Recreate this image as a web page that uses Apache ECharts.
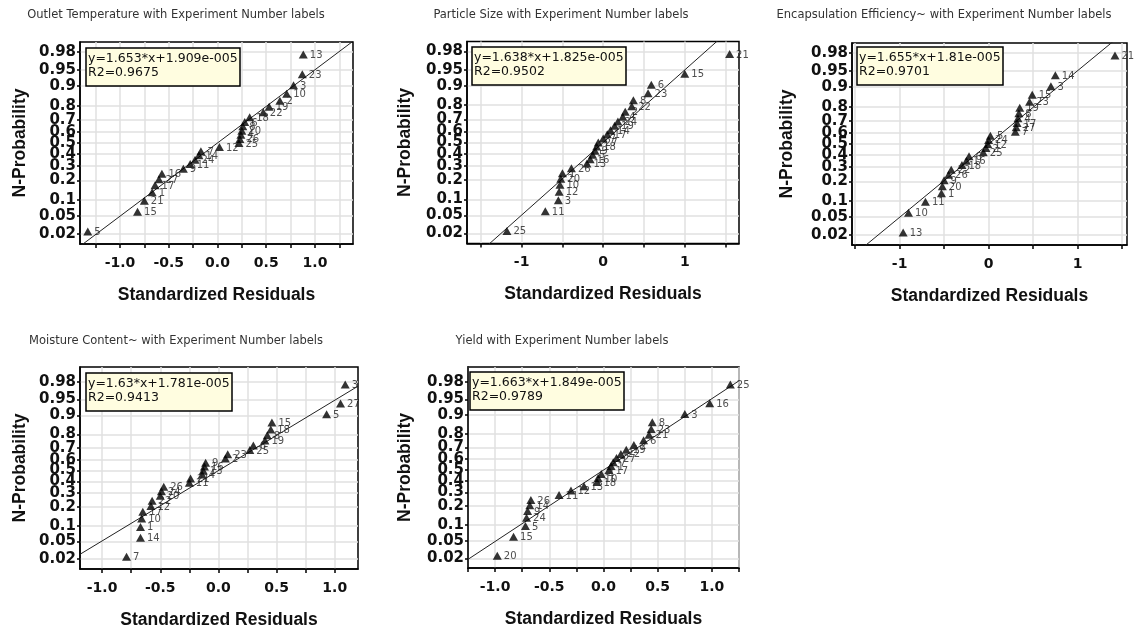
<!DOCTYPE html>
<html>
<head>
<meta charset="utf-8">
<script src="https://cdn.jsdelivr.net/npm/echarts@6/dist/echarts.min.js"></script>
<style>
  html, body { margin: 0; padding: 0; background: #ffffff; }
  #chart { width: 1140px; height: 632px; }
</style>
</head>
<body>
<div id="chart"></div>
<script>
// Normal probability plots of standardized residuals, one panel per response.

const panelTitles = [
  'Outlet Temperature with Experiment Number labels',
  'Particle Size with Experiment Number labels',
  'Encapsulation Efficiency~ with Experiment Number labels',
  'Moisture Content~ with Experiment Number labels',
  'Yield with Experiment Number labels'
];

// Cumulative probability of each ranked residual (27 runs)
const plotPositions = [0.023, 0.060, 0.096, 0.133, 0.170, 0.206, 0.243, 0.280, 0.317,
  0.353, 0.390, 0.427, 0.463, 0.500, 0.537, 0.573, 0.610, 0.647,
  0.683, 0.720, 0.757, 0.794, 0.830, 0.867, 0.904, 0.940, 0.977];

// Sorted standardized residuals and the experiment number of each
const outletResiduals = [-1.33, -0.82, -0.75, -0.67, -0.64, -0.60, -0.57, -0.35, -0.28,
  -0.23, -0.19, -0.17, 0.02, 0.22, 0.23, 0.24, 0.25, 0.26,
  0.28, 0.33, 0.47, 0.53, 0.64, 0.71, 0.78, 0.87, 0.88];
const outletRuns = [5, 15, 21, 1, 17, 27, 16, 9, 11, 24, 14, 7, 12, 25, 26, 4, 20, 8,
  6, 18, 22, 19, 2, 10, 3, 23, 13];

const sizeResiduals = [-1.18, -0.71, -0.55, -0.54, -0.53, -0.52, -0.50, -0.39, -0.20,
  -0.16, -0.13, -0.10, -0.08, -0.06, 0.00, 0.05, 0.09, 0.14,
  0.18, 0.24, 0.27, 0.35, 0.37, 0.55, 0.59, 1.00, 1.55];
const sizeRuns = [25, 11, 3, 12, 10, 20, 1, 26, 13, 16, 5, 9, 18, 27, 7, 17, 14, 19,
  24, 4, 2, 22, 8, 23, 6, 15, 21];

const efficiencyResiduals = [-0.96, -0.90, -0.71, -0.53, -0.52, -0.50, -0.45, -0.42, -0.30,
  -0.25, -0.22, -0.06, -0.03, -0.01, 0.00, 0.02, 0.30, 0.31,
  0.32, 0.33, 0.34, 0.35, 0.46, 0.49, 0.70, 0.75, 1.42];
const efficiencyRuns = [13, 10, 11, 1, 20, 9, 26, 22, 18, 16, 6, 25, 2, 12, 24, 5, 7, 27,
  17, 4, 8, 19, 23, 15, 3, 14, 21];

const moistureResiduals = [-0.79, -0.67, -0.67, -0.66, -0.65, -0.58, -0.57, -0.50, -0.49,
  -0.47, -0.25, -0.24, -0.14, -0.13, -0.12, -0.11, 0.06, 0.08,
  0.27, 0.30, 0.40, 0.42, 0.45, 0.46, 0.93, 1.05, 1.09];
const moistureRuns = [7, 14, 1, 10, 17, 12, 22, 20, 24, 26, 11, 21, 4, 13, 16, 9, 2, 23,
  25, 6, 19, 8, 18, 15, 5, 27, 3];

const yieldResiduals = [-0.98, -0.83, -0.72, -0.71, -0.70, -0.68, -0.67, -0.41, -0.30,
  -0.18, -0.06, -0.05, -0.02, 0.05, 0.07, 0.09, 0.12, 0.16,
  0.21, 0.28, 0.37, 0.42, 0.44, 0.45, 0.75, 0.98, 1.17];
const yieldRuns = [20, 15, 5, 24, 9, 14, 26, 11, 12, 13, 18, 10, 4, 17, 1, 7, 27, 22,
  19, 2, 6, 21, 23, 8, 3, 16, 25];

// Linear fit of N-score against residual, per panel
const fitSlopes = [1.653, 1.638, 1.655, 1.63, 1.663];
const fitIntercepts = [1.909e-5, 1.825e-5, 1.81e-5, 1.781e-5, 1.849e-5];
const fitR2 = ['0.9675', '0.9502', '0.9701', '0.9413', '0.9789'];

// Axis ticks
const probTickLabels = ['0.02', '0.05', '0.1', '0.2', '0.3', '0.4', '0.5', '0.6', '0.7', '0.8', '0.9', '0.95', '0.98'];
const xTicksQuarter = [-1.25, -1, -0.75, -0.5, -0.25, 0, 0.25, 0.5, 0.75, 1, 1.25];
const xLabelsHalf = [-1, -0.5, 0, 0.5, 1];
const xTicksHalf = [-1.5, -1, -0.5, 0, 0.5, 1, 1.5];
const xLabelsUnit = [-1, 0, 1];

// Layout
const residualSets = [outletResiduals, sizeResiduals, efficiencyResiduals, moistureResiduals, yieldResiduals];
const runSets = [outletRuns, sizeRuns, efficiencyRuns, moistureRuns, yieldRuns];
const gridBoxes = [
  [80, 42, 273, 202],
  [467, 41.5, 272, 202],
  [852, 43, 275, 202],
  [80, 367, 278, 202],
  [468, 367, 271, 201]
];
const xExtents = [[-1.41, 1.39], [-1.67, 1.665], [-1.535, 1.555], [-1.19, 1.2], [-1.25, 1.25]];
const zExtents = [[-2.28, 2.28], [-2.28, 2.28], [-2.28, 2.28], [-2.28, 2.40], [-2.28, 2.40]];
const xTickSets = [xTicksQuarter, xTicksHalf, xTicksHalf, xTicksQuarter, xTicksQuarter];
const xLabelSets = [xLabelsHalf, xLabelsUnit, xLabelsUnit, xLabelsHalf, xLabelsHalf];
const xDecimals = [1, 0, 0, 1, 1];
const yNameGaps = [51, 53, 56, 51, 54];
const titleCenters = [[176, 15], [561, 15], [944, 15], [176, 341], [562, 341]];
const fitBoxPos = [[86, 48], [472, 47], [857, 47], [86, 373], [470, 372]];

// Inverse standard normal CDF (Acklam's rational approximation)
function probit(p) {
  const a = [-3.969683028665376e+01, 2.209460984245205e+02, -2.759285104469687e+02,
    1.383577518672690e+02, -3.066479806614716e+01, 2.506628277459239e+00];
  const b = [-5.447609879822406e+01, 1.615858368580409e+02, -1.556989798598866e+02,
    6.680131188771972e+01, -1.328068155288572e+01];
  const c = [-7.784894002430293e-03, -3.223964580411365e-01, -2.400758277161838e+00,
    -2.549732539343734e+00, 4.374664141464968e+00, 2.938163982698783e+00];
  const d = [7.784695709041462e-03, 3.224671290700398e-01, 2.445134137142996e+00,
    3.754408661907416e+00];
  const pl = 0.02425;
  if (p < pl) {
    const q = Math.sqrt(-2 * Math.log(p));
    return (((((c[0] * q + c[1]) * q + c[2]) * q + c[3]) * q + c[4]) * q + c[5]) /
      ((((d[0] * q + d[1]) * q + d[2]) * q + d[3]) * q + 1);
  }
  if (p > 1 - pl) {
    const q = Math.sqrt(-2 * Math.log(1 - p));
    return -(((((c[0] * q + c[1]) * q + c[2]) * q + c[3]) * q + c[4]) * q + c[5]) /
      ((((d[0] * q + d[1]) * q + d[2]) * q + d[3]) * q + 1);
  }
  const q = p - 0.5, r = q * q;
  return (((((a[0] * r + a[1]) * r + a[2]) * r + a[3]) * r + a[4]) * r + a[5]) * q /
    (((((b[0] * r + b[1]) * r + b[2]) * r + b[3]) * r + b[4]) * r + 1);
}

const yTickValues = probTickLabels.map(s => probit(parseFloat(s)));
function probLabel(v) {
  let best = 0;
  for (let i = 1; i < yTickValues.length; i++) {
    if (Math.abs(yTickValues[i] - v) < Math.abs(yTickValues[best] - v)) best = i;
  }
  return probTickLabels[best];
}

function fmtExp(v) {
  return v.toExponential().replace(/e([+-])(\d+)$/, (m, s, dgt) => 'e' + s + dgt.padStart(3, '0'));
}

const xTickFont = { fontFamily: 'DejaVu Sans', fontWeight: 'bold', fontSize: 14, color: '#111' };
const yTickFont = { fontFamily: 'DejaVu Sans', fontWeight: 'bold', fontSize: 15, color: '#111' };
const nameFont = { fontFamily: 'Liberation Sans', fontWeight: 'bold', fontSize: 17.5, color: '#111' };
const gridLine = { show: true, lineStyle: { color: '#e0e0e0', width: 1.5 } };

const grids = [], xAxes = [], yAxes = [], series = [], titles = [], graphics = [];

gridBoxes.forEach((g, i) => {
  grids.push({
    left: g[0], top: g[1], width: g[2], height: g[3],
    show: true, borderColor: '#000', borderWidth: 1.5, backgroundColor: '#fff'
  });

  xAxes.push({
    gridIndex: i, type: 'value',
    min: xExtents[i][0], max: xExtents[i][1],
    axisLine: { show: true, onZero: false, lineStyle: { color: '#000', width: 1.5 } },
    axisTick: { show: true, customValues: xTickSets[i], length: 4, lineStyle: { color: '#000', width: 1.5 } },
    axisLabel: {
      customValues: xLabelSets[i], margin: 12, ...xTickFont,
      formatter: v => Number(v).toFixed(xDecimals[i])
    },
    splitLine: gridLine,
    name: 'Standardized Residuals', nameLocation: 'middle', nameGap: 42,
    nameTextStyle: nameFont
  });

  yAxes.push({
    gridIndex: i, type: 'value',
    min: zExtents[i][0], max: zExtents[i][1],
    axisLine: { show: true, onZero: false, lineStyle: { color: '#000', width: 1.5 } },
    axisTick: { show: true, customValues: yTickValues, length: 3, lineStyle: { color: '#000', width: 1.5 } },
    axisLabel: { customValues: yTickValues, margin: 4, ...yTickFont, formatter: v => probLabel(v) },
    splitLine: gridLine,
    name: 'N-Probability', nameLocation: 'middle', nameGap: yNameGaps[i], nameRotate: 90,
    nameTextStyle: nameFont
  });

  const s = fitSlopes[i], b = fitIntercepts[i];
  series.push({
    type: 'line', xAxisIndex: i, yAxisIndex: i,
    data: [[xExtents[i][0], s * xExtents[i][0] + b], [xExtents[i][1], s * xExtents[i][1] + b]],
    showSymbol: false, symbol: 'none', clip: true, silent: true, z: 2,
    lineStyle: { color: '#222', width: 1 }
  });

  const res = residualSets[i], runs = runSets[i];
  series.push({
    type: 'scatter', xAxisIndex: i, yAxisIndex: i, z: 3,
    data: res.map((x, k) => [x, probit(plotPositions[k]), runs[k]]),
    symbol: 'triangle', symbolSize: [9, 8],
    itemStyle: { color: '#000' },
    label: {
      show: true, position: 'right', distance: 2, offset: [0, 1],
      formatter: p => String(p.value[2]),
      fontFamily: 'DejaVu Sans', fontSize: 10, color: '#222'
    }
  });

  titles.push({
    left: fitBoxPos[i][0], top: fitBoxPos[i][1],
    text: 'y=' + s + '*x+' + fmtExp(b) + '\nR2=' + fitR2[i],
    padding: [3, 3, 6, 2],
    backgroundColor: '#fffde0', borderColor: '#000', borderWidth: 1.5,
    textStyle: { fontFamily: 'DejaVu Sans', fontWeight: 'normal', fontSize: 12.5, color: '#111', lineHeight: 14.5 }
  });

  graphics.push({
    type: 'text', x: titleCenters[i][0], y: titleCenters[i][1],
    style: {
      text: panelTitles[i], fontFamily: 'DejaVu Sans', fontSize: 11.5, fill: '#333',
      align: 'center', verticalAlign: 'middle'
    }
  });
});

const chart = echarts.init(document.getElementById('chart'), null, { renderer: 'canvas' });
chart.setOption({
  animation: false,
  backgroundColor: '#ffffff',
  title: titles,
  grid: grids,
  xAxis: xAxes,
  yAxis: yAxes,
  series: series,
  graphic: { elements: graphics }
});
</script>
</body>
</html>
